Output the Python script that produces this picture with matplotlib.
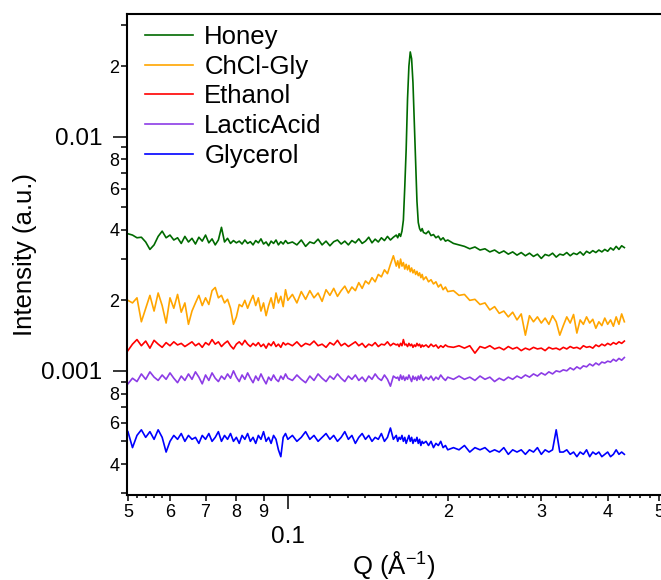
import numpy as np
import matplotlib
matplotlib.use('Agg')
import matplotlib.pyplot as plt
from matplotlib.ticker import FixedLocator, FuncFormatter

plt.rcParams['font.family'] = ['Liberation Sans', 'DejaVu Sans']
plt.rcParams['mathtext.fontset'] = 'custom'
plt.rcParams['mathtext.rm'] = 'Liberation Sans'
plt.rcParams['mathtext.it'] = 'Liberation Sans:italic'

# ---------------- data (Q in 1/A, intensities in units of 1e-3 a.u.) ----------------
q = [0.050, 0.051, 0.052, 0.053, 0.054, 0.055, 0.056, 0.057, 0.058, 0.059,
     0.060, 0.061, 0.062, 0.063, 0.064, 0.065, 0.066, 0.067, 0.068, 0.069,
     0.070, 0.071, 0.072, 0.073, 0.074, 0.075, 0.076, 0.077, 0.078, 0.079,
     0.080, 0.081, 0.082, 0.083, 0.084, 0.085, 0.086, 0.087, 0.088, 0.089,
     0.090, 0.091, 0.092, 0.093, 0.094, 0.095, 0.096, 0.097, 0.098, 0.099,
     0.100,
     0.102, 0.104, 0.106, 0.108, 0.110, 0.112, 0.114, 0.116, 0.118, 0.120,
     0.122, 0.124, 0.126, 0.128, 0.130, 0.132, 0.134, 0.136, 0.138, 0.140,
     0.142, 0.144, 0.146, 0.148, 0.150, 0.152, 0.154, 0.156, 0.158, 0.160,
     0.161, 0.162, 0.163, 0.164, 0.165, 0.166, 0.167, 0.168, 0.169, 0.170,
     0.171, 0.172, 0.173, 0.174, 0.175, 0.176, 0.177, 0.178, 0.179, 0.180,
     0.182, 0.184, 0.186, 0.188, 0.190, 0.192, 0.194, 0.196, 0.198, 0.200,
     0.205, 0.210, 0.215, 0.220, 0.225, 0.230, 0.235, 0.240, 0.245, 0.250,
     0.255, 0.260, 0.265, 0.270, 0.275, 0.280, 0.285, 0.290, 0.295, 0.300,
     0.305, 0.310, 0.315, 0.320, 0.325, 0.330, 0.335, 0.340, 0.345, 0.350,
     0.355, 0.360, 0.365, 0.370, 0.375, 0.380, 0.385, 0.390, 0.395, 0.400,
     0.405, 0.410, 0.415, 0.420, 0.425, 0.430]

honey = [3.85, 3.80, 3.70, 3.72, 3.55, 3.30, 3.45, 3.75, 3.95, 3.70,
         3.80, 3.62, 3.70, 3.50, 3.75, 3.55, 3.68, 3.48, 3.72, 3.58,
         3.80, 3.52, 3.66, 3.45, 3.62, 4.10, 3.55, 3.68, 3.50, 3.60,
         3.52, 3.58, 3.48, 3.62, 3.50, 3.56, 3.45, 3.60, 3.52, 3.66,
         3.48, 3.55, 3.42, 3.58, 3.50, 3.62, 3.45, 3.56, 3.48, 3.60,
         3.50,
         3.55, 3.45, 3.62, 3.40, 3.55, 3.50, 3.65, 3.45, 3.58, 3.42,
         3.56, 3.62, 3.48, 3.58, 3.45, 3.60, 3.52, 3.66, 3.50, 3.58,
         3.72, 3.52, 3.65, 3.55, 3.70, 3.60, 3.75, 3.62, 3.72, 3.80,
         3.70, 3.85, 3.75, 3.95, 4.40, 6.10, 8.80, 14.5, 20.0, 23.0,
         21.5, 17.0, 11.5, 8.00, 5.30, 4.30, 4.05, 3.95, 4.05, 3.90,
         3.85, 3.95, 3.78, 3.82, 3.70, 3.76, 3.62, 3.70, 3.58, 3.62,
         3.50, 3.45, 3.40, 3.32, 3.38, 3.28, 3.32, 3.22, 3.28, 3.18,
         3.25, 3.15, 3.22, 3.12, 3.20, 3.10, 3.18, 3.08, 3.15, 3.02,
         3.14, 3.10, 3.18, 3.06, 3.15, 3.12, 3.20, 3.10, 3.18, 3.14,
         3.22, 3.12, 3.24, 3.18, 3.26, 3.20, 3.28, 3.22, 3.30, 3.24,
         3.35, 3.28, 3.40, 3.30, 3.42, 3.36]

chcl_gly = [2.00, 1.95, 2.05, 1.62, 1.85, 2.10, 1.80, 2.15, 1.90, 1.60,
            2.05, 1.85, 2.12, 1.78, 1.95, 1.58, 1.80, 1.95, 2.10, 1.90,
            2.05, 1.92, 2.20, 2.27, 2.05, 2.10, 1.95, 2.02, 1.85, 1.58,
            1.70, 1.92, 1.88, 2.00, 1.85, 1.98, 2.10, 1.90, 2.05, 1.80,
            1.95, 1.72, 1.90, 2.05, 1.85, 2.15, 1.95, 2.08, 1.88, 2.22,
            2.00,
            2.12, 1.95, 2.18, 2.02, 2.20, 2.05, 2.15, 1.98, 2.22, 2.10,
            2.25, 2.08, 2.20, 2.30, 2.15, 2.28, 2.20, 2.38, 2.25, 2.42,
            2.35, 2.50, 2.40, 2.58, 2.52, 2.70, 2.60, 2.85, 3.10, 2.80,
            2.95, 2.75, 3.00, 2.80, 2.90, 2.72, 2.85, 2.70, 2.82, 2.65,
            2.75, 2.62, 2.70, 2.58, 2.66, 2.55, 2.62, 2.50, 2.58, 2.45,
            2.52, 2.40, 2.45, 2.35, 2.40, 2.28, 2.34, 2.22, 2.28, 2.18,
            2.20, 2.10, 2.12, 2.00, 2.02, 1.92, 1.95, 1.82, 1.88, 1.76,
            1.80, 1.70, 1.78, 1.65, 1.75, 1.42, 1.72, 1.62, 1.70, 1.60,
            1.68, 1.58, 1.72, 1.62, 1.42, 1.56, 1.70, 1.60, 1.74, 1.45,
            1.65, 1.58, 1.70, 1.60, 1.66, 1.52, 1.62, 1.56, 1.68, 1.58,
            1.65, 1.55, 1.70, 1.58, 1.75, 1.62]

ethanol = [1.22, 1.30, 1.36, 1.28, 1.34, 1.25, 1.35, 1.30, 1.26, 1.32,
           1.28, 1.33, 1.29, 1.31, 1.27, 1.30, 1.33, 1.28, 1.31, 1.26,
           1.32, 1.29, 1.36, 1.30, 1.33, 1.27, 1.31, 1.34, 1.28, 1.24,
           1.30, 1.33, 1.29, 1.35, 1.30, 1.27, 1.31, 1.28, 1.32, 1.27,
           1.30, 1.25, 1.31, 1.28, 1.33, 1.27, 1.30, 1.26, 1.32, 1.29,
           1.31,
           1.28, 1.33, 1.27, 1.31, 1.29, 1.34, 1.28, 1.30, 1.26, 1.32,
           1.29, 1.35, 1.28, 1.31, 1.27, 1.30, 1.33, 1.28, 1.31, 1.26,
           1.30, 1.28, 1.32, 1.27, 1.30, 1.29, 1.33, 1.28, 1.31, 1.29,
           1.30, 1.27, 1.31, 1.28, 1.36, 1.29, 1.30, 1.27, 1.31, 1.28,
           1.30, 1.26, 1.29, 1.27, 1.31, 1.28, 1.30, 1.26, 1.29, 1.27,
           1.29, 1.26, 1.30, 1.27, 1.29, 1.25, 1.28, 1.26, 1.29, 1.27,
           1.26, 1.28, 1.25, 1.28, 1.19, 1.27, 1.25, 1.28, 1.24, 1.26,
           1.23, 1.27, 1.24, 1.26, 1.22, 1.25, 1.23, 1.26, 1.24, 1.25,
           1.22, 1.26, 1.24, 1.25, 1.23, 1.26, 1.24, 1.27, 1.25, 1.26,
           1.24, 1.28, 1.26, 1.27, 1.25, 1.29, 1.27, 1.30, 1.28, 1.31,
           1.29, 1.32, 1.30, 1.33, 1.31, 1.34]

lactic_acid = [0.88, 0.93, 0.90, 0.97, 0.92, 0.99, 0.94, 0.91, 0.96, 0.92,
               0.98, 0.93, 0.89, 0.95, 0.91, 0.97, 0.92, 0.99, 0.94, 0.88,
               0.96, 0.91, 0.98, 0.93, 0.90, 0.95, 0.92, 0.97, 0.93, 1.00,
               0.94, 0.90, 0.96, 0.92, 0.98, 0.93, 0.89, 0.95, 0.91, 0.97,
               0.92, 0.88, 0.94, 0.91, 0.96, 0.92, 0.90, 0.95, 0.92, 0.97,
               0.93,
               0.91, 0.96, 0.92, 0.89, 0.95, 0.91, 0.97, 0.93, 0.90, 0.95,
               0.92, 0.97, 0.93, 0.90, 0.95, 0.92, 0.96, 0.91, 0.94, 0.90,
               0.95, 0.92, 0.97, 0.93, 0.91, 0.96, 0.92, 0.86, 0.95, 0.93,
               0.94, 0.91, 0.96, 0.92, 0.95, 0.91, 0.94, 0.92, 0.96, 0.93,
               0.90, 0.95, 0.92, 0.94, 0.91, 0.95, 0.92, 0.96, 0.93, 0.91,
               0.94, 0.92, 0.95, 0.91, 0.94, 0.92, 0.96, 0.93, 0.91, 0.94,
               0.92, 0.95, 0.92, 0.94, 0.91, 0.95, 0.92, 0.94, 0.90, 0.93,
               0.91, 0.94, 0.92, 0.95, 0.93, 0.96, 0.94, 0.97, 0.95, 0.98,
               0.96, 0.99, 0.97, 1.00, 0.99, 1.01, 1.00, 1.03, 1.01, 1.04,
               1.02, 1.05, 1.04, 1.07, 1.05, 1.08, 1.06, 1.09, 1.08, 1.10,
               1.09, 1.12, 1.10, 1.13, 1.11, 1.14]

glycerol = [0.55, 0.47, 0.53, 0.56, 0.52, 0.55, 0.51, 0.56, 0.52, 0.45,
            0.50, 0.53, 0.51, 0.54, 0.50, 0.53, 0.51, 0.52, 0.49, 0.53,
            0.51, 0.54, 0.50, 0.52, 0.55, 0.50, 0.53, 0.51, 0.54, 0.50,
            0.52, 0.49, 0.53, 0.51, 0.54, 0.50, 0.52, 0.49, 0.53, 0.51,
            0.55, 0.50, 0.52, 0.49, 0.53, 0.51, 0.46, 0.43, 0.52, 0.54,
            0.51,
            0.53, 0.50, 0.52, 0.55, 0.51, 0.53, 0.50, 0.52, 0.54, 0.51,
            0.53, 0.50, 0.52, 0.55, 0.51, 0.53, 0.49, 0.52, 0.54, 0.51,
            0.53, 0.50, 0.52, 0.51, 0.54, 0.50, 0.52, 0.57, 0.51, 0.53,
            0.50, 0.52, 0.51, 0.53, 0.50, 0.52, 0.49, 0.51, 0.53, 0.50,
            0.52, 0.49, 0.51, 0.50, 0.52, 0.49, 0.51, 0.48, 0.50, 0.49,
            0.50, 0.48, 0.50, 0.47, 0.49, 0.48, 0.50, 0.47, 0.48, 0.46,
            0.47, 0.46, 0.48, 0.45, 0.47, 0.46, 0.47, 0.45, 0.46, 0.45,
            0.47, 0.44, 0.46, 0.45, 0.46, 0.44, 0.46, 0.45, 0.47, 0.44,
            0.46, 0.45, 0.46, 0.56, 0.45, 0.45, 0.46, 0.44, 0.45, 0.43,
            0.45, 0.44, 0.46, 0.43, 0.45, 0.44, 0.45, 0.43, 0.44, 0.45,
            0.43, 0.44, 0.46, 0.44, 0.45, 0.44]

series_names = ["Honey", "ChCl-Gly", "Ethanol", "LacticAcid", "Glycerol"]
series_values = [honey, chcl_gly, ethanol, lactic_acid, glycerol]
series_colors = ["#006a00", "#ffa500", "#ff0000", "#8c3ce6", "#0000ff"]

# tick positions / labels
x_major = [0.1]
x_minor_labeled = {0.05: "5", 0.06: "6", 0.07: "7", 0.08: "8", 0.09: "9",
                   0.2: "2", 0.3: "3", 0.4: "4", 0.5: "5"}
x_sub = [0.052, 0.054, 0.056, 0.058,
         0.11, 0.12, 0.13, 0.14, 0.15, 0.16, 0.17, 0.18, 0.19,
         0.21, 0.22, 0.23, 0.24, 0.25, 0.26, 0.27, 0.28, 0.29,
         0.32, 0.34, 0.36, 0.38, 0.42, 0.44, 0.46, 0.48]
y_major = {0.001: "0.001", 0.01: "0.01"}
y_minor = [3e-4, 4e-4, 5e-4, 6e-4, 7e-4, 8e-4, 9e-4,
           2e-3, 3e-3, 4e-3, 5e-3, 6e-3, 7e-3, 8e-3, 9e-3, 2e-2, 3e-2]
y_minor_labels = {2: "2", 4: "4", 6: "6", 8: "8"}

# ---------------- figure ----------------
W, H = 661, 580
fig = plt.figure(figsize=(W / 100, H / 100), dpi=100)
ax = fig.add_axes([127 / W, 1 - 495 / H, 534 / W, 481 / H])

for name, vals, col in zip(series_names, series_values, series_colors):
    ax.plot(q, np.asarray(vals) * 1e-3, color=col, lw=1.2, label=name)

ax.set_xscale('log')
ax.set_yscale('log')
ax.set_xlim(0.0498, 0.504)
ax.set_ylim(2.95e-4, 0.0334)

x_minor_all = sorted(list(x_minor_labeled.keys()) + x_sub)
ax.xaxis.set_major_locator(FixedLocator(x_major))
ax.xaxis.set_major_formatter(FuncFormatter(lambda v, p: "0.1"))
ax.xaxis.set_minor_locator(FixedLocator(x_minor_all))


def xminor_fmt(v, p):
    for k, s in x_minor_labeled.items():
        if np.isclose(v, k):
            return s
    return ""


ax.xaxis.set_minor_formatter(FuncFormatter(xminor_fmt))

ax.yaxis.set_major_locator(FixedLocator(list(y_major.keys())))
ax.yaxis.set_major_formatter(FuncFormatter(
    lambda v, p: next((s for k, s in y_major.items() if np.isclose(v, k)), "")))
ax.yaxis.set_minor_locator(FixedLocator(y_minor))


def yminor_fmt(v, p):
    m = v / 10 ** np.floor(np.log10(v) + 1e-9)
    for k, s in y_minor_labels.items():
        if np.isclose(m, k):
            return s
    return ""


ax.yaxis.set_minor_formatter(FuncFormatter(yminor_fmt))

ax.tick_params(axis='both', which='both', direction='out', width=1.1,
               colors='black', top=False, right=False)
ax.tick_params(axis='y', which='major', length=10, labelsize=17.5, pad=8)
ax.tick_params(axis='y', which='minor', length=4.5, labelsize=13, pad=1)
ax.tick_params(axis='x', which='major', length=10, labelsize=17.5, pad=12)
ax.tick_params(axis='x', which='minor', length=4.5, labelsize=13, pad=2)

for side in ['left', 'bottom', 'top']:
    ax.spines[side].set_linewidth(1.5)
ax.spines['right'].set_visible(False)

ax.set_ylabel('Intensity (a.u.)', fontsize=18.5, labelpad=3)
ax.set_xlabel(r'Q (Å$^{\mathregular{-1}}$)', fontsize=18.5, labelpad=1)

ax.legend(loc='upper left', bbox_to_anchor=(0.034, 0.977), frameon=False,
          fontsize=18.5, handlelength=1.85, handletextpad=0.45,
          labelspacing=0.22, borderaxespad=0, borderpad=0)

fig.canvas.draw()
locs = ax.xaxis.get_minorticklocs()
for t, v in zip(ax.xaxis.get_minor_ticks(len(locs)), locs):
    if any(np.isclose(v, s) for s in x_sub):
        t.tick1line.set_markersize(2.2)

fig.savefig('out.png', dpi=100)
